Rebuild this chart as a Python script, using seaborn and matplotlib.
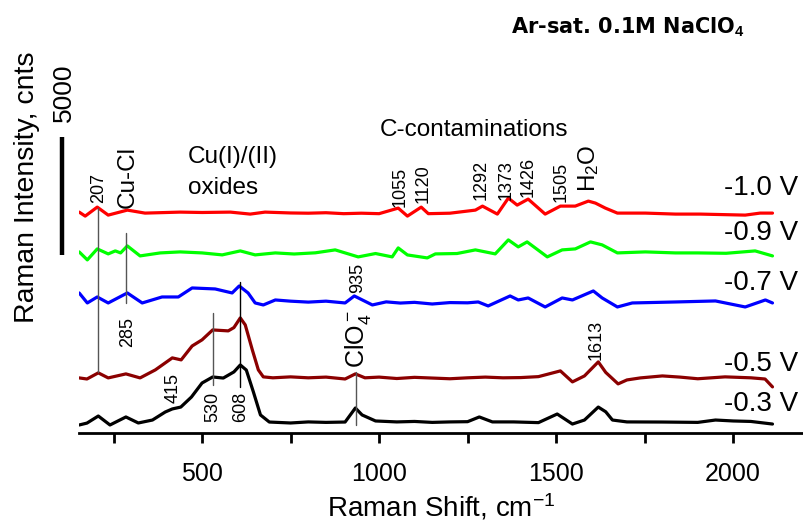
import matplotlib
matplotlib.use("Agg")
import matplotlib.pyplot as plt
import seaborn as sns
import pandas as pd

# Raman spectra of the Cu electrode in Ar-saturated 0.1 M NaClO4 (counts, before stacking)
shift_03 = [153, 175, 207, 240, 285, 320, 360, 396, 416, 440, 470, 500, 530, 560, 590, 608,
            625, 645, 665, 690, 750, 800, 850, 904, 933, 952, 990, 1050, 1100, 1150, 1200,
            1250, 1283, 1320, 1380, 1450, 1503, 1546, 1580, 1619, 1640, 1659, 1700, 1800,
            1900, 1950, 2000, 2050, 2111]
int_03 = [340, 420, 720, 340, 680, 425, 550, 890, 1020, 1100, 1525, 2120, 2375, 2330, 2590, 2885,
          2670, 1740, 765, 465, 425, 470, 450, 465, 1060, 765, 510, 470, 490, 450, 470,
          480, 680, 470, 470, 440, 805, 380, 550, 1100, 900, 550, 470, 465,
          450, 550, 510, 490, 380]

shift_05 = [153, 175, 207, 235, 285, 325, 368, 416, 441, 472, 500, 530, 574, 590, 608, 622,
            642, 659, 673, 700, 750, 800, 850, 904, 933, 960, 1000, 1050, 1100, 1150, 1200,
            1250, 1300, 1350, 1400, 1450, 1512, 1546, 1580, 1619, 1640, 1675, 1700, 1738,
            1800, 1850, 1900, 1977, 2050, 2090, 2111]
int_05 = [466, 420, 680, 466, 636, 466, 805, 1315, 1230, 1820, 2080, 2500, 2460, 2600, 3010, 2714,
          1654, 805, 510, 470, 510, 470, 500, 420, 636, 470, 500, 440, 490, 460, 430,
          470, 500, 470, 480, 520, 763, 297, 550, 1145, 700, 212, 380, 466,
          550, 500, 430, 510, 470, 420, 85]

shift_07 = [153, 176, 204, 235, 289, 331, 387, 433, 472, 537, 585, 605, 630, 650, 673, 707,
            750, 800, 850, 904, 930, 981, 1020, 1060, 1100, 1150, 1200, 1250, 1280, 1308,
            1370, 1393, 1421, 1469, 1517, 1546, 1605, 1630, 1673, 1715, 1837, 1950, 2034,
            2091, 2111]
int_07 = [848, 424, 678, 424, 848, 424, 678, 678, 1060, 1018, 848, 1145, 848, 424, 339, 551,
          500, 460, 500, 424, 721, 339, 470, 420, 450, 380, 440, 430, 466, 297,
          721, 551, 636, 254, 636, 551, 933, 636, 254, 424, 466, 509, 254,
          551, 424]

shift_09 = [153, 176, 204, 235, 255, 270, 289, 325, 382, 438, 500, 557, 608, 650, 707, 760,
            820, 876, 941, 990, 1037, 1054, 1080, 1136, 1159, 1220, 1272, 1328, 1365, 1393,
            1418, 1475, 1517, 1554, 1597, 1630, 1673, 1752, 1837, 1900, 1980, 2062, 2111]
int_09 = [509, 170, 636, 424, 551, 466, 763, 339, 466, 509, 466, 382, 551, 382, 466, 420,
          470, 594, 297, 440, 297, 678, 380, 254, 424, 440, 594, 424, 1018, 721,
          933, 297, 594, 636, 933, 806, 466, 509, 466, 466, 450, 551, 339]

shift_10 = [153, 170, 204, 235, 289, 339, 438, 500, 580, 636, 678, 750, 800, 850, 900, 950,
            1000, 1054, 1080, 1119, 1139, 1200, 1272, 1292, 1334, 1365, 1390, 1421, 1469,
            1512, 1554, 1591, 1611, 1639, 1673, 1752, 1837, 1907, 2034, 2076, 2111]
int_10 = [466, 297, 678, 339, 551, 424, 466, 450, 466, 382, 466, 430, 420, 440, 400, 420,
          400, 636, 297, 678, 400, 420, 551, 720, 382, 1060, 763, 1018, 382,
          721, 721, 933, 848, 636, 424, 424, 382, 382, 339, 424, 424]

potentials = ["-0.3 V", "-0.5 V", "-0.7 V", "-0.9 V", "-1.0 V"]
offsets = [0, 1870, 5090, 7170, 8900]
colors = ["#000000", "#8b0000", "#0000ff", "#00ff00", "#ff0000"]
label_y = [1230, 2926, 6360, 8480, 10388]

shifts = [shift_03, shift_05, shift_07, shift_09, shift_10]
intens = [int_03, int_05, int_07, int_09, int_10]

frames = []
for pot, off, xs, ys in zip(potentials, offsets, shifts, intens):
    frames.append(pd.DataFrame({"shift": xs, "counts": [v + off for v in ys], "potential": pot}))
df = pd.concat(frames, ignore_index=True)

sns.set_theme(style="white")
plt.rcParams["font.family"] = ["Liberation Sans", "DejaVu Sans"]
plt.rcParams["mathtext.fontset"] = "custom"
plt.rcParams["mathtext.rm"] = "Liberation Sans"
plt.rcParams["mathtext.it"] = "Liberation Sans:italic"
plt.rcParams["mathtext.bf"] = "Liberation Sans:bold"
plt.rcParams["text.color"] = "black"
plt.rcParams["axes.labelcolor"] = "black"
plt.rcParams["xtick.color"] = "black"
plt.rcParams["xtick.labelcolor"] = "black"

fig = plt.figure(figsize=(8.04, 5.29), dpi=100)
ax = fig.add_axes([79 / 804, 1 - 433 / 529, 1 - 79 / 804, 433 / 529])

sns.lineplot(data=df, x="shift", y="counts", hue="potential", palette=dict(zip(potentials, colors)),
             estimator=None, sort=False, legend=False, linewidth=2.3, ax=ax)

ax.set_xlim(152.5, 2200)
ax.set_ylim(0, 18360)
for side in ("left", "top", "right"):
    ax.spines[side].set_visible(False)
ax.spines["bottom"].set_linewidth(2)
ax.spines["bottom"].set_color("black")
ax.set_yticks([])
ax.set_xticks([500, 1000, 1500, 2000])
ax.set_xticks([250, 750, 1250, 1750], minor=True)
ax.tick_params(axis="x", which="both", direction="out", length=7, width=2, color="black",
               bottom=True, labelsize=18, pad=14, labelcolor="black")
ax.set_xlabel("Raman Shift, cm$^{-1}$", fontsize=20, labelpad=4)
ax.set_ylabel("")
fig.text(0.034, 1 - 187 / 529, "Raman Intensity, cnts", rotation=90, fontsize=20.5,
         ha="center", va="center")

# potential labels
for pot, yy in zip(potentials, label_y):
    ax.text(2184, yy, pot, fontsize=20, ha="right", va="center")

# 5000-count scale bar
ax.plot([105, 105], [7547, 12547], color="black", lw=3.2, clip_on=False, solid_capstyle="butt")
ax.text(110, 13186, "5000", rotation=90, fontsize=19, ha="center", va="bottom")

# peak marker lines
gray = "#555555"
ax.plot([207, 207], [9540, 2586], color=gray, lw=1)
ax.plot([285, 285], [8480, 5512], color=gray, lw=1)
ax.plot([530, 530], [5088, 2035], color=gray, lw=1)
ax.plot([608, 608], [6402, 1950], color="black", lw=1)
ax.plot([935, 935], [2586, 339], color=gray, lw=1)

num_fs = 13
grp_fs = 17.5
ax.text(207, 9752, "207", rotation=90, fontsize=num_fs, ha="center", va="bottom")
ax.text(291, 9540, "Cu-Cl", rotation=90, fontsize=grp_fs, ha="center", va="bottom")
ax.text(291, 4918, "285", rotation=90, fontsize=num_fs, ha="center", va="top")
ax.text(461, 11700, "Cu(I)/(II)", fontsize=grp_fs, ha="left", va="center")
ax.text(461, 10388, "oxides", fontsize=grp_fs, ha="left", va="center")
ax.text(1003, 12847, "C-contaminations", fontsize=grp_fs, ha="left", va="center")
ax.text(1058, 9582, "1055", rotation=90, fontsize=num_fs, ha="center", va="bottom")
ax.text(1123, 9752, "1120", rotation=90, fontsize=num_fs, ha="center", va="bottom")
ax.text(1287, 9879, "1292", rotation=90, fontsize=num_fs, ha="center", va="bottom")
ax.text(1360, 9879, "1373", rotation=90, fontsize=num_fs, ha="center", va="bottom")
ax.text(1422, 10006, "1426", rotation=90, fontsize=num_fs, ha="center", va="bottom")
ax.text(1515, 9794, "1505", rotation=90, fontsize=num_fs, ha="center", va="bottom")
ax.text(1591, 10218, "H$_2$O", rotation=90, fontsize=grp_fs, ha="center", va="bottom")
ax.text(938, 5936, "935", rotation=90, fontsize=num_fs, ha="center", va="bottom")
ax.text(940, 2756, "ClO$_4^-$", rotation=90, fontsize=18, ha="center", va="bottom")
ax.text(418, 1272, "415", rotation=90, fontsize=num_fs, ha="center", va="bottom")
ax.text(530, 466, "530", rotation=90, fontsize=num_fs, ha="center", va="bottom")
ax.text(608, 466, "608", rotation=90, fontsize=num_fs, ha="center", va="bottom")
ax.text(1613, 3095, "1613", rotation=90, fontsize=num_fs, ha="center", va="bottom")

fig.text(628 / 804, 1 - 27 / 529, "Ar-sat. 0.1M NaClO$_\\mathbf{4}$", fontsize=15,
         fontweight="bold", family="DejaVu Sans", ha="center", va="center")

fig.savefig("out.png", dpi=100)
